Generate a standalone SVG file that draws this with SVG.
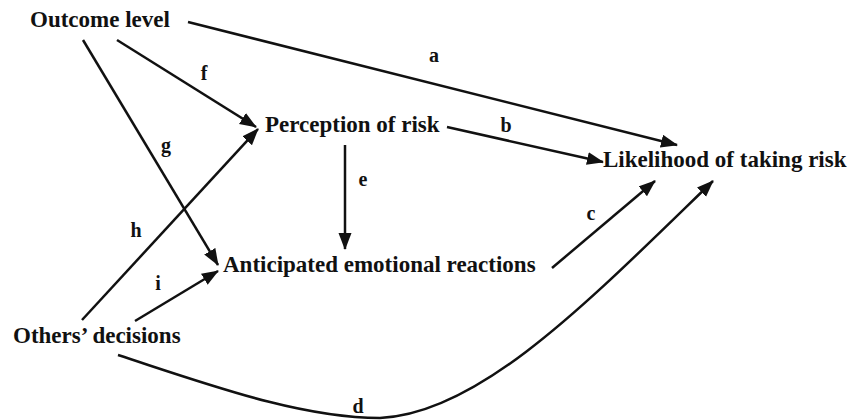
<svg xmlns="http://www.w3.org/2000/svg" width="853" height="420" viewBox="0 0 853 420">
<style>
.n{font-weight:bold;font-size:23px;fill:#111}
.l{font-weight:bold;font-size:20px;fill:#111;text-anchor:middle}
.c{fill:none;stroke:#111;stroke-width:2.5}
</style>
<defs>
<marker id="ah" markerWidth="18" markerHeight="14" refX="16" refY="6.5" orient="auto" markerUnits="userSpaceOnUse">
<path d="M0,0 L17,6.5 L0,13 z" fill="#111"/>
</marker>
</defs>
<rect width="853" height="420" fill="#fff"/>
<g id="connectors">
<path class="c" d="M188,22 L677,145" marker-end="url(#ah)"/>
<path class="c" d="M117,40 L256,127" marker-end="url(#ah)"/>
<path class="c" d="M83,40 L218,265" marker-end="url(#ah)"/>
<path class="c" d="M82,320 L258,129" marker-end="url(#ah)"/>
<path class="c" d="M135,321 L218,271" marker-end="url(#ah)"/>
<path class="c" d="M345,145 L345,249" marker-end="url(#ah)"/>
<path class="c" d="M447,127 L603,162" marker-end="url(#ah)"/>
<path class="c" d="M552,268 L655,181" marker-end="url(#ah)"/>
<path class="c" d="M118,355 C210,385 300,418 380,418 C480,414 590,300 713,181" marker-end="url(#ah)"/>
</g>
<g font-family="'Liberation Serif', 'DejaVu Serif', serif">
<g id="labels">
<text class="l" x="434" y="62">a</text>
<text class="l" x="506" y="132">b</text>
<text class="l" x="591" y="220">c</text>
<text class="l" x="358" y="413">d</text>
<text class="l" x="363" y="186">e</text>
<text class="l" x="204" y="80">f</text>
<text class="l" x="166" y="152">g</text>
<text class="l" x="136" y="237">h</text>
<text class="l" x="158" y="290">i</text>
</g>
<g id="outcome"><text class="n" x="30" y="27">Outcome level</text></g>
<g id="perception"><text class="n" x="265" y="132">Perception of risk</text></g>
<g id="likelihood"><text class="n" x="603" y="167">Likelihood of taking risk</text></g>
<g id="anticipated"><text class="n" x="223" y="272">Anticipated emotional reactions</text></g>
<g id="others"><text class="n" x="13" y="343">Others’ decisions</text></g>
</g>
</svg>
